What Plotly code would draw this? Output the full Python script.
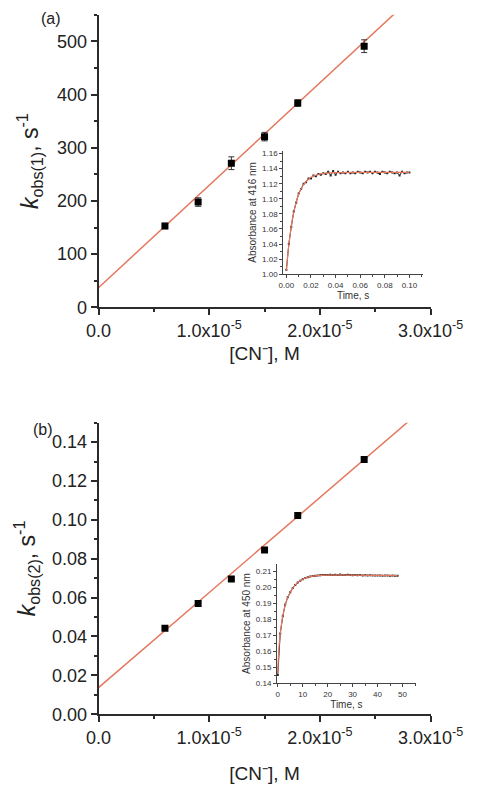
import plotly.graph_objects as go

# ---------------- data ----------------
conc = [0.6e-5, 0.9e-5, 1.2e-5, 1.5e-5, 1.8e-5, 2.4e-5]
kobs1 = [153, 198, 271, 321, 384, 491]
kobs1_err = [5, 8, 12, 8, 6, 12]
fit1_slope, fit1_intercept = 1.926e7, 37.0

kobs2 = [0.0443, 0.0570, 0.0696, 0.0845, 0.1023, 0.1310]
fit2_slope, fit2_intercept = 4890.0, 0.0137

fit_x = [0.0, 3.0e-5]

x_tickvals = [0, 1e-5, 2e-5, 3e-5]
x_ticktext = ["0.0", "1.0x10<sup>-5</sup>", "2.0x10<sup>-5</sup>", "3.0x10<sup>-5</sup>"]

# inset (a): absorbance at 416 nm vs time (s)
ta = [0.000, 0.002, 0.004, 0.006, 0.008, 0.010, 0.012, 0.014, 0.016, 0.018,
      0.020, 0.022, 0.024, 0.026, 0.028, 0.030, 0.032, 0.034, 0.036, 0.038,
      0.040, 0.042, 0.044, 0.046, 0.048, 0.050, 0.052, 0.054, 0.056, 0.058,
      0.060, 0.062, 0.064, 0.066, 0.068, 0.070, 0.072, 0.074, 0.076, 0.078,
      0.080, 0.082, 0.084, 0.086, 0.088, 0.090, 0.092, 0.094, 0.096, 0.098, 0.100]
absa = [1.006, 1.040, 1.063, 1.083, 1.095, 1.107, 1.113, 1.120, 1.122, 1.127,
        1.127, 1.131, 1.130, 1.133, 1.132, 1.134, 1.133, 1.136, 1.131, 1.137,
        1.132, 1.136, 1.134, 1.135, 1.134, 1.136, 1.134, 1.135, 1.134, 1.136,
        1.135, 1.134, 1.136, 1.135, 1.136, 1.134, 1.136, 1.135, 1.133, 1.136,
        1.135, 1.134, 1.136, 1.135, 1.134, 1.135, 1.131, 1.136, 1.134, 1.135, 1.135]
ta_fit = [0.000, 0.001, 0.002, 0.003, 0.004, 0.005, 0.006, 0.008, 0.010, 0.012,
          0.014, 0.016, 0.018, 0.020, 0.024, 0.028, 0.032, 0.040, 0.060, 0.080, 0.100]
absa_fit = [1.005, 1.023, 1.039, 1.052, 1.064, 1.074, 1.082, 1.096, 1.106, 1.1135,
            1.119, 1.123, 1.126, 1.1285, 1.1314, 1.133, 1.134, 1.1347, 1.135, 1.135, 1.135]

# inset (b): absorbance at 450 nm vs time (s)
tb = list(range(0, 49))
absb = [0.1450, 0.1710, 0.1818, 0.1892, 0.1937, 0.1968, 0.1996, 0.2014, 0.2029, 0.2041,
        0.2050, 0.2058, 0.2063, 0.2067, 0.2070, 0.2072, 0.2074, 0.2075, 0.2077, 0.2076,
        0.2077, 0.2078, 0.2076, 0.2078, 0.2077, 0.2079, 0.2077, 0.2076, 0.2078, 0.2077,
        0.2075, 0.2076, 0.2075, 0.2076, 0.2074, 0.2075, 0.2074, 0.2075, 0.2073, 0.2074,
        0.2073, 0.2074, 0.2072, 0.2073, 0.2073, 0.2072, 0.2073, 0.2072, 0.2072]
tb_fit = [0, 0.25, 0.5, 1, 1.5, 2, 3, 4, 5, 6, 7, 8, 10, 12, 14, 16, 20, 25, 30, 40, 48]
absb_fit = [0.146, 0.156, 0.163, 0.171, 0.177, 0.182, 0.189, 0.1935, 0.197, 0.1995,
            0.2015, 0.203, 0.205, 0.2063, 0.207, 0.2073, 0.2076, 0.2077, 0.2076, 0.2074, 0.2073]

# ---------------- styles ----------------
FONT = "Arial, Liberation Sans, sans-serif"
AX = "#2b2b2b"
FIT = "#E5775E"

fig = go.Figure()

fit1_y = [fit1_intercept + fit1_slope * x for x in fit_x]
fit2_y = [fit2_intercept + fit2_slope * x for x in fit_x]

fig.add_trace(go.Scatter(x=fit_x, y=fit1_y, mode="lines", line=dict(color=FIT, width=1.5),
                         xaxis="x", yaxis="y", showlegend=False))
fig.add_trace(go.Scatter(x=conc, y=kobs1, mode="markers",
                         marker=dict(symbol="square", size=7, color="black"),
                         error_y=dict(type="data", array=kobs1_err, color="#333", thickness=1, width=3),
                         xaxis="x", yaxis="y", showlegend=False))
fig.add_trace(go.Scatter(x=fit_x, y=fit2_y, mode="lines", line=dict(color=FIT, width=1.5),
                         xaxis="x2", yaxis="y2", showlegend=False))
fig.add_trace(go.Scatter(x=conc, y=kobs2, mode="markers",
                         marker=dict(symbol="square", size=7, color="black"),
                         xaxis="x2", yaxis="y2", showlegend=False))

# insets
fig.add_trace(go.Scatter(x=ta, y=absa, mode="lines+markers", line=dict(color="#222", width=1),
                         marker=dict(symbol="square", size=2, color="#222"),
                         xaxis="x3", yaxis="y3", showlegend=False))
fig.add_trace(go.Scatter(x=ta_fit, y=absa_fit, mode="lines", line=dict(color=FIT, width=1.2, shape="spline"),
                         xaxis="x3", yaxis="y3", showlegend=False))
fig.add_trace(go.Scatter(x=tb, y=absb, mode="lines+markers", line=dict(color="#222", width=1),
                         marker=dict(symbol="square", size=2, color="#222"),
                         xaxis="x4", yaxis="y4", showlegend=False))
fig.add_trace(go.Scatter(x=tb_fit, y=absb_fit, mode="lines", line=dict(color=FIT, width=1.2, shape="spline"),
                         xaxis="x4", yaxis="y4", showlegend=False))

main_common = dict(showline=True, linewidth=2, linecolor=AX, ticks="outside", ticklen=6,
                   tickwidth=2, tickcolor=AX, showgrid=False, zeroline=False,
                   tickfont=dict(family=FONT, size=18, color="#222"))
inset_common = dict(showline=True, linewidth=1, linecolor="#444", ticks="outside", ticklen=3,
                    tickwidth=1, tickcolor="#444", showgrid=False, zeroline=False,
                    tickfont=dict(family=FONT, size=8, color="#333"))

xdom = [0.1905, 0.930]

fig.update_layout(
    width=495, height=791, margin=dict(l=0, r=0, t=0, b=0),
    paper_bgcolor="white", plot_bgcolor="white",
    xaxis=dict(domain=xdom, anchor="y", range=[0, 3e-5], tickmode="array",
               tickvals=x_tickvals, ticktext=x_ticktext,
               title=dict(text="[CN⁻], M", font=dict(family=FONT, size=19, color="#222"), standoff=7),
               minor=dict(tick0=0, dtick=0.5e-5, ticks="outside", ticklen=3, tickwidth=1.5, tickcolor=AX),
               **main_common),
    yaxis=dict(domain=[0.6072, 0.9823], anchor="x", range=[0, 550], tick0=0, dtick=100,
               minor=dict(tick0=0, dtick=50, ticks="outside", ticklen=3, tickwidth=1.5, tickcolor=AX),
               title=dict(text="<i>k</i><sub>obs(1)</sub>, s<sup>-1</sup>",
                          font=dict(family=FONT, size=23, color="#222"), standoff=12),
               **main_common),
    xaxis2=dict(domain=xdom, anchor="y2", range=[0, 3e-5], tickmode="array",
                tickvals=x_tickvals, ticktext=x_ticktext,
                title=dict(text="[CN⁻], M", font=dict(family=FONT, size=19, color="#222"), standoff=20),
                minor=dict(tick0=0, dtick=0.5e-5, ticks="outside", ticklen=3, tickwidth=1.5, tickcolor=AX),
                **main_common),
    yaxis2=dict(domain=[0.0856, 0.4594], anchor="x2", range=[0, 0.15], tick0=0, dtick=0.02,
                tickformat=".2f",
                minor=dict(tick0=0, dtick=0.01, ticks="outside", ticklen=3, tickwidth=1.5, tickcolor=AX),
                title=dict(text="<i>k</i><sub>obs(2)</sub>, s<sup>-1</sup>",
                           font=dict(family=FONT, size=23, color="#222"), standoff=10),
                **main_common),
    xaxis3=dict(domain=[0.602, 0.913], anchor="y3", range=[-0.0025, 0.111], tick0=0, dtick=0.02,
                tickformat=".2f",
                minor=dict(tick0=0, dtick=0.01, ticks="outside", ticklen=2, tickwidth=1, tickcolor="#444"),
                title=dict(text="Time, s", font=dict(family=FONT, size=10, color="#333"), standoff=3),
                **inset_common),
    yaxis3=dict(domain=[0.6498, 0.8082], anchor="x3", range=[1.0, 1.164], tick0=1.0, dtick=0.02,
                tickformat=".2f",
                minor=dict(tick0=1.0, dtick=0.01, ticks="outside", ticklen=2, tickwidth=1, tickcolor="#444"),
                title=dict(text="Absorbance at 416 nm", font=dict(family=FONT, size=10, color="#333"), standoff=3),
                **inset_common),
    xaxis4=dict(domain=[0.588, 0.897], anchor="y4", range=[-0.3, 55.3], tick0=0, dtick=10,
                minor=dict(tick0=0, dtick=5, ticks="outside", ticklen=2, tickwidth=1, tickcolor="#444"),
                title=dict(text="Time, s", font=dict(family=FONT, size=10, color="#333"), standoff=3),
                **inset_common),
    yaxis4=dict(domain=[0.1255, 0.2781], anchor="x4", range=[0.14, 0.2145], tick0=0.14, dtick=0.01,
                tickformat=".2f",
                minor=dict(tick0=0.14, dtick=0.005, ticks="outside", ticklen=2, tickwidth=1, tickcolor="#444"),
                title=dict(text="Absorbance at 450 nm", font=dict(family=FONT, size=10, color="#333"), standoff=3),
                **inset_common),
    annotations=[
        dict(text="(a)", x=42 / 495, y=1 - 18 / 791, xref="paper", yref="paper", showarrow=False,
             font=dict(family=FONT, size=16, color="#222"), xanchor="center", yanchor="middle"),
        dict(text="(b)", x=33 / 495, y=1 - 435 / 791, xref="paper", yref="paper", showarrow=False,
             font=dict(family=FONT, size=16, color="#222"), xanchor="center", yanchor="middle"),
    ],
)

fig.write_html("out.html")
